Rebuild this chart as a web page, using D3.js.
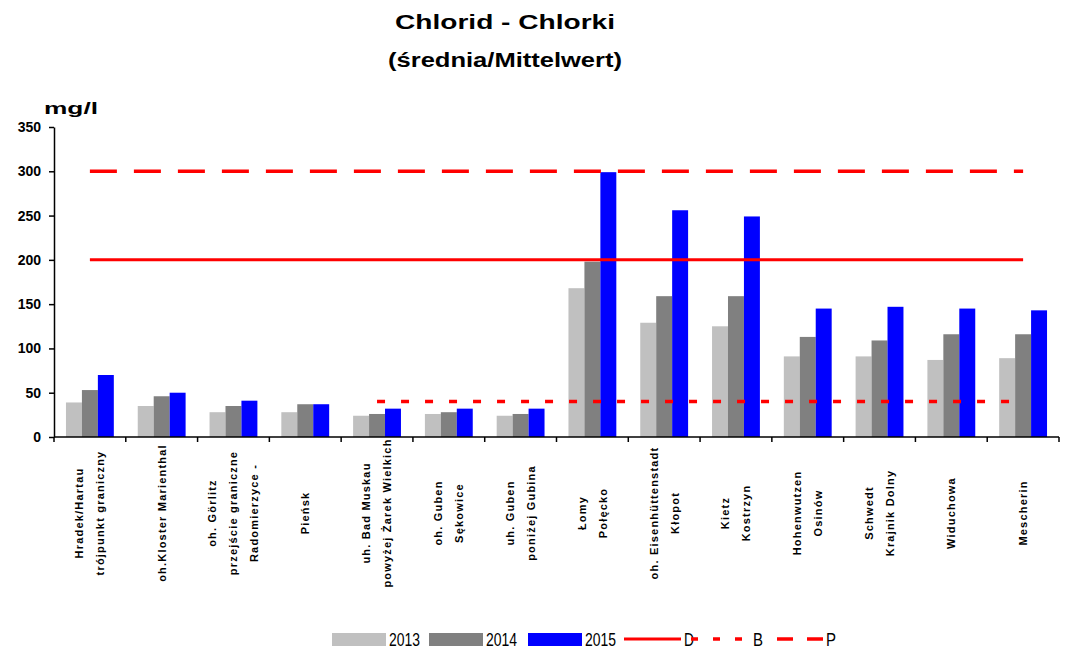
<!DOCTYPE html>
<html lang="pl">
<head>
<meta charset="UTF-8">
<title>Chlorid - Chlorki</title>
<script src="https://d3js.org/d3.v7.min.js"></script>
<style>
    body { margin: 0; background: #fff; }
    .axis path, .axis line { stroke: black; stroke-width: 1.5px; }
    .axis text { fill: black; font-family: "Liberation Sans", Arial, sans-serif; font-weight: bold; font-size: 14px; }
    .title { font-family: "Liberation Sans", Arial, sans-serif; font-weight: bold; }
    .cat text { font-family: "Liberation Sans", Arial, sans-serif; font-weight: bold; font-size: 11px; letter-spacing: 1.2px; }
    .legend text { font-family: "Liberation Sans", Arial, sans-serif; font-size: 19px; }
</style>
</head>
<body>
<script>

// categories (one entry per measuring point, lines of the wrapped label)
const stations = [
    ["Hradek/Hartau", "trójpunkt graniczny"],
    ["oh.Kloster Marienthal"],
    ["oh. Görlitz", "przejście graniczne", "Radomierzyce -"],
    ["Pieńsk"],
    ["uh. Bad Muskau", "powyżej Żarek Wielkich"],
    ["oh. Guben", "Sękowice"],
    ["uh. Guben", "poniżej Gubina"],
    ["Łomy", "Połęcko"],
    ["oh. Eisenhüttenstadt", "Kłopot"],
    ["Kietz", "Kostrzyn"],
    ["Hohenwutzen", "Osinów"],
    ["Schwedt", "Krajnik Dolny"],
    ["Widuchowa"],
    ["Mescherin"]
]

// mean chloride values, mg/l
const v2013 = [39, 35, 28, 28, 24, 26, 24, 168, 129, 125, 91, 91, 87, 89]
const v2014 = [53, 46, 35, 37, 26, 28, 26, 198, 159, 159, 113, 109, 116, 116]
const v2015 = [70, 50, 41, 37, 32, 32, 32, 299, 256, 249, 145, 147, 145, 143]

// limit lines
const limitD = [200, 200, 200, 200, 200, 200, 200, 200, 200, 200, 200, 200, 200, 200]
const limitB = [null, null, null, null, 40, 40, 40, 40, 40, 40, 40, 40, 40, 40]
const limitP = [300, 300, 300, 300, 300, 300, 300, 300, 300, 300, 300, 300, 300, 300]

const yTicks = [0, 50, 100, 150, 200, 250, 300, 350]
const years = ["2013", "2014", "2015"]
const yearColor = {"2013": "#c0c0c0", "2014": "#808080", "2015": "#0000ff"}

// dimensions
const MARGIN = {TOP: 127, RIGHT: 12, BOTTOM: 213, LEFT: 54}
const W = 1071, H = 650
const WIDTH = W - MARGIN.LEFT - MARGIN.RIGHT
const HEIGHT = H - MARGIN.TOP - MARGIN.BOTTOM

const svg = d3.select("body").append("svg")
    .attr("width", W)
    .attr("height", H)

// titles
svg.append("text").attr("class", "title")
    .attr("x", 505).attr("y", 29)
    .attr("text-anchor", "middle")
    .attr("font-size", "21px")
    .attr("textLength", 220).attr("lengthAdjust", "spacingAndGlyphs")
    .text("Chlorid - Chlorki")
svg.append("text").attr("class", "title")
    .attr("x", 505).attr("y", 67)
    .attr("text-anchor", "middle")
    .attr("font-size", "20px")
    .attr("textLength", 234).attr("lengthAdjust", "spacingAndGlyphs")
    .text("(średnia/Mittelwert)")
svg.append("text").attr("class", "title")
    .attr("x", 44).attr("y", 114)
    .attr("font-size", "16px")
    .attr("textLength", 54).attr("lengthAdjust", "spacingAndGlyphs")
    .text("mg/l")

const g = svg.append("g")
    .attr("transform", `translate(${MARGIN.LEFT}, ${MARGIN.TOP})`)

// scales
const x = d3.scaleBand().domain(d3.range(stations.length)).range([0, WIDTH])
const bw = x.bandwidth()
const xSub = d3.scaleBand().domain(years).range([bw / 6, bw * 5 / 6])
const y = d3.scaleLinear().domain([0, 350]).range([HEIGHT, 0])

// bars
const series = {"2013": v2013, "2014": v2014, "2015": v2015}
years.forEach(yr => {
    g.selectAll(".bar" + yr)
        .data(series[yr])
        .enter().append("rect")
        .attr("x", (d, i) => x(i) + xSub(yr))
        .attr("y", d => y(d))
        .attr("width", xSub.bandwidth())
        .attr("height", d => HEIGHT - y(d))
        .attr("fill", yearColor[yr])
})

// limit lines
const line = d3.line()
    .defined(d => d != null)
    .x((d, i) => x(i) + bw / 2)
    .y(d => y(d))

const limits = [
    {name: "D", vals: limitD, dash: null, w: 3},
    {name: "B", vals: limitB, dash: "8,16", w: 3.5},
    {name: "P", vals: limitP, dash: "27,17", w: 3.5}
]
limits.forEach(l => {
    g.append("path")
        .datum(l.vals)
        .attr("d", line)
        .attr("fill", "none")
        .attr("stroke", "#ff0000")
        .attr("stroke-width", l.w)
        .attr("stroke-dasharray", l.dash)
})

// axes
g.append("g")
    .attr("class", "axis")
    .call(d3.axisLeft(y).tickValues(yTicks).tickSize(5).tickPadding(8).tickSizeOuter(0))

const xAxis = g.append("g")
    .attr("class", "axis")
    .attr("transform", `translate(0, ${HEIGHT})`)
xAxis.append("line")
    .attr("x1", 0).attr("x2", WIDTH)
    .attr("y1", 0).attr("y2", 0)
xAxis.selectAll(".tk")
    .data(d3.range(stations.length + 1))
    .enter().append("line")
    .attr("x1", i => i * bw).attr("x2", i => i * bw)
    .attr("y1", 0).attr("y2", 5)

// category labels, rotated
const cat = g.selectAll(".cat")
    .data(stations)
    .enter().append("g")
    .attr("class", "cat")
    .attr("transform", (d, i) => `translate(${x(i) + bw / 2}, ${HEIGHT + 76}) rotate(-90)`)
cat.each(function(lines) {
    const n = lines.length
    d3.select(this).selectAll("text")
        .data(lines)
        .enter().append("text")
        .attr("x", 0)
        .attr("y", (d, j) => (j - (n - 1) / 2) * 21)
        .attr("dy", "0.35em")
        .attr("text-anchor", "middle")
        .text(d => d)
})

// legend
const legend = svg.append("g").attr("class", "legend")
const lgY = 639
years.forEach((yr, i) => {
    const lx = [332, 429, 528][i]
    legend.append("rect")
        .attr("x", lx).attr("y", lgY - 6)
        .attr("width", 54).attr("height", 13)
        .attr("fill", yearColor[yr])
    legend.append("text")
        .attr("x", lx + 57).attr("y", lgY + 7)
        .attr("textLength", 31).attr("lengthAdjust", "spacingAndGlyphs")
        .text(yr)
})
const lgLines = [
    {x0: 624, x1: 681, lim: limits[0]},
    {x0: 691, x1: 750, lim: limits[1]},
    {x0: 777, x1: 823, lim: limits[2]}
]
lgLines.forEach(l => {
    legend.append("line")
        .attr("x1", l.x0).attr("x2", l.x1)
        .attr("y1", lgY).attr("y2", lgY)
        .attr("stroke", "#ff0000")
        .attr("stroke-width", l.lim.w)
        .attr("stroke-dasharray", l.lim.name == "B" ? "7,15" : (l.lim.name == "P" ? "16,14" : null))
    legend.append("text")
        .attr("x", l.x1 + 3).attr("y", lgY + 7)
        .attr("textLength", 10).attr("lengthAdjust", "spacingAndGlyphs")
        .text(l.lim.name)
})

</script>
</body>
</html>
